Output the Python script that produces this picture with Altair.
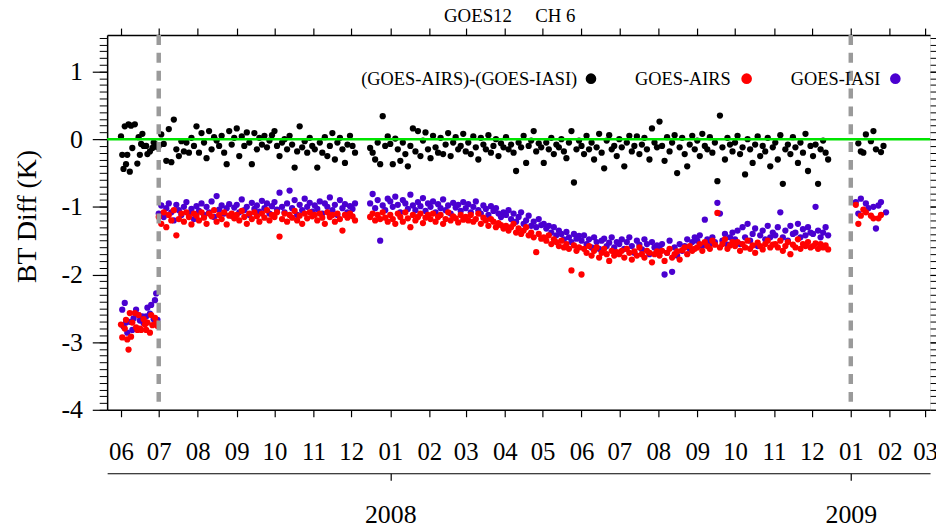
import datetime as dt
import altair as alt
import pandas as pd

SERIF = "Liberation Serif"

# ---------------- data ----------------
SERIES = ["(GOES-AIRS)-(GOES-IASI)", "GOES-IASI", "GOES-AIRS"]
COLORS = ["#000000", "#4a00d0", "#ff0000"]

# segment start dates and sampling step (days)
seg_start = ["2007-06-01", "2007-07-01", "2007-12-16", "2009-01-05"]
seg_step = [1, 2, 2, 2]

# ---- (GOES-AIRS)-(GOES-IASI) ----
diff_A = [0.04, -0.23, -0.44, 0.19, -0.37, -0.23, 0.22, -0.48, 0.20, -0.13,
          None, 0.22, None, -0.36, 0.03, -0.23, -0.07, 0.08, -0.10, None,
          -0.10, -0.22, None, -0.18, None, -0.13, -0.05, None, -0.08, -0.12]
diff_B = [-0.10, 0.07, -0.07, -0.32, 0.15, -0.34, 0.29, -0.15, -0.25, -0.03, -0.18, -0.05, -0.20, 0.02, -0.10, 0.19,
          -0.20, 0.09, -0.05, -0.28, 0.12, -0.15, 0.03, -0.02, -0.10, 0.05, -0.20, -0.37, 0.12, -0.08, 0.02,
          0.16, -0.25, 0.04, -0.10, 0.10, -0.05, -0.37, 0.09, -0.15, 0.02, -0.08, 0.05, -0.12, -0.02, 0.06,
          0.12, -0.10, -0.25, -0.05, 0.00, -0.15, 0.05, -0.08, -0.42, -0.18, 0.19, -0.12, -0.03, -0.20, 0.02, -0.10,
          -0.15, -0.42, -0.05, -0.20, 0.03, -0.25, -0.10, 0.09, -0.30, -0.05, 0.02, -0.15, -0.35, -0.08, 0.05,
          -0.10, -0.20]
diff_C = [-0.13, -0.20, -0.30, -0.05, -0.37, 0.34, -0.10, 0.04,
          -0.07, -0.37, 0.01, -0.15, -0.32, -0.05, -0.22, -0.40, -0.10, 0.16, -0.18, 0.12, -0.25, -0.02, 0.10, -0.15,
          -0.28, 0.05, -0.12, -0.20, 0.02, -0.22, -0.08, 0.09, -0.25, -0.05, 0.03, -0.15, -0.10, 0.08,
          -0.18, -0.05, -0.22, 0.04, -0.12, -0.30, 0.02, -0.08, -0.15, 0.06, -0.20, -0.10, 0.00, -0.25, -0.06, -0.12,
          0.03, -0.15, -0.08, -0.20, -0.47, -0.05, -0.12, 0.05, -0.35, -0.10, -0.02, 0.12, -0.18, -0.06, -0.12,
          -0.35, -0.05, -0.15, 0.02, -0.22, -0.08, -0.12, 0.00, -0.18, -0.28, -0.05, 0.12, -0.64, -0.15, -0.02,
          -0.10, -0.22, 0.05, -0.15, -0.05, -0.30, -0.12, 0.08, -0.20, -0.43, -0.02, 0.06, -0.15, -0.10, -0.25,
          0.00, -0.12, -0.40, -0.05, 0.05, -0.18, -0.10, 0.04, -0.22, -0.08, 0.02, -0.15, -0.30, 0.16, -0.05, -0.12,
          0.26, -0.10, -0.32, 0.03, -0.18, -0.05, 0.06, -0.50, -0.12, 0.02, -0.22, -0.40, -0.08, 0.05, -0.15,
          -0.02, -0.25, 0.08, -0.10, -0.15, 0.03, -0.20, -0.05, -0.62, 0.35, -0.12, -0.30, 0.02, -0.08, -0.18,
          -0.05, 0.05, -0.22, -0.12, -0.52, 0.00, -0.15, -0.35, -0.08, 0.04, -0.25, -0.10, -0.18, 0.02, -0.40, -0.12,
          -0.05, -0.30, 0.06, -0.66, -0.15, -0.08, -0.22, 0.03, -0.12, -0.35, -0.05, -0.20, 0.08, -0.47, -0.10,
          -0.25, -0.08, -0.66, -0.15, -0.02, -0.20, -0.30]
diff_D = [None, -0.06, -0.18, -0.20, 0.07, None, -0.03, 0.12, -0.15, None, -0.19, -0.10, None, None]

# ---- GOES-IASI ----
iasi_A = [None, -2.52, -2.77, -2.42, -2.71, -2.86, None, -2.70, None, -2.82,
          -2.65, None, -2.52, None, -2.60, -2.68, None, -2.62, -2.72, None,
          -2.62, -2.49, None, -2.58, -2.45, None, -2.66, -2.38, -2.28, -2.67]
iasi_B = [-1.10, -0.98, -1.15, -1.02, -0.95, -1.08, -1.20, -0.97, -1.05, -1.12, -1.00, -0.93, -1.10, -1.03, -1.18, -0.99,
          -1.06, -0.95, -1.12, -1.00, -1.08, -0.92, -1.15, -0.84, -1.04, -0.98, -1.10, -1.02, -0.96, -1.13, -1.01,
          -0.97, -1.08, -0.89, -1.05, -1.00, -1.12, -0.94, -1.03, -0.98, -1.07, -0.91, -1.02, -0.95, -1.10, -0.99,
          -0.93, -1.04, -0.79, -1.00, -1.08, -0.95, -0.76, -1.02, -0.90, -1.12, -0.97, -1.05, -0.88, -1.00, -0.94, -1.07,
          -0.98, -1.03, -0.92, -1.10, -0.95, -1.00, -0.86, -1.05, -0.97, -1.12, -0.90, -1.02, -0.96, -1.08, -0.99,
          -1.03, -0.95]
iasi_C = [-0.95, -0.81, -1.02, -0.90, -1.50, -0.98, -1.05, -0.88,
          -0.92, -1.00, -0.85, -0.97, -1.08, -0.90, -0.95, -1.03, -0.82, -0.98, -1.05, -0.93, -0.99, -0.87, -1.06, -0.95,
          -1.00, -0.92, -1.08, -0.96, -1.02, -0.89, -1.05, -0.98, -1.10, -0.94, -1.01, -0.97, -1.06, -0.93,
          -1.02, -0.96, -1.08, -1.00, -0.92, -1.05, -1.10, -0.98, -1.03, -1.12, -0.99, -1.06, -1.02, -1.10, -1.15, -1.08,
          -1.12, -1.05, -1.18, -1.10, -1.22, -1.15, -1.08, -1.25, -1.20, -1.13, -1.28, -1.22, -1.30, -1.18, -1.27,
          -1.25, -1.32, -1.28, -1.38, -1.30, -1.42, -1.35, -1.40, -1.48, -1.37, -1.45, -1.52, -1.40, -1.47, -1.43,
          -1.50, -1.42, -1.55, -1.48, -1.60, -1.45, -1.52, -1.62, -1.50, -1.47, -1.58, -1.53, -1.45, -1.60, -1.52,
          -1.55, -1.48, -1.62, -1.52, -1.45, -1.58, -1.68, -1.50, -1.56, -1.63, -1.48, -1.55, -1.70, -1.52, -1.60, -1.57,
          -1.62, -1.55, -2.00, -1.68, -1.50, -1.96, -1.60, -1.72, -1.55, -1.65, -1.58, -1.48, -1.62, -1.52, -1.45,
          -1.50, -1.42, -1.58, -1.19, -1.48, -1.55, -1.45, -1.52, -0.94, -1.10, -1.50, -1.40, -1.56, -1.45, -1.38,
          -1.48, -1.35, -1.55, -1.30, -1.45, -1.25, -1.50, -1.40, -1.32, -1.58, -1.42, -1.35, -1.48, -1.28, -1.45, -1.38,
          -1.42, -1.30, -1.08, -1.45, -1.35, -1.50, -1.28, -1.40, -1.38, -1.25, -1.45, -1.33, -1.42, -1.30, -1.38,
          -1.40, -1.00, -1.35, -1.45, -1.38, -1.30, -1.42]
iasi_D = [-0.93, -1.10, -0.88, None, -0.95, -1.02, None, -1.00, -1.32, -0.98, -0.93, None, -1.08, None]

# ---- GOES-AIRS ----
airs_A = [-2.74, -2.93, None, -2.80, -2.67, -2.96, -3.11, -2.57, -2.92, -2.71,
          None, -2.57, -2.78, -2.82, -2.60, -2.80, -2.82, None, -2.66, -2.74,
          -2.82, -2.71, None, -2.86, -2.60, -2.75, None, -2.64, -2.71, -2.76]
airs_B = [-1.15, -1.25, -1.08, -1.30, -1.12, -1.20, -1.05, -1.42, -1.18, -1.10, -1.22, -1.08, -1.15, -1.26, -1.10, -1.13,
          -1.20, -1.08, -1.16, -1.25, -1.10, -1.14, -1.05, -1.22, -1.12, -1.18, -1.08, -1.26, -1.13, -1.10, -1.17,
          -1.12, -1.20, -1.06, -1.15, -1.25, -1.10, -1.18, -1.08, -1.14, -1.22, -1.10, -1.16, -1.05, -1.20, -1.12,
          -1.15, -1.08, -1.44, -1.18, -1.10, -1.22, -1.12, -1.16, -1.06, -1.20, -1.13, -1.25, -1.10, -1.17, -1.08, -1.14,
          -1.12, -1.20, -1.10, -1.16, -1.25, -1.08, -1.15, -1.12, -1.22, -1.10, -1.18, -1.35, -1.12, -1.16, -1.10,
          -1.14, -1.20]
airs_C = [-1.15, -1.10, -1.20, -1.12, -1.18, -1.08, -1.16, -1.22,
          -1.12, -1.18, -1.25, -1.10, -1.15, -1.22, -1.08, -1.17, -1.30, -1.12, -1.20, -1.15, -1.10, -1.24, -1.16, -1.12,
          -1.18, -1.10, -1.22, -1.15, -1.12, -1.25, -1.18, -1.08, -1.20, -1.14, -1.17, -1.23, -1.12, -1.19,
          -1.15, -1.20, -1.12, -1.22, -1.18, -1.10, -1.25, -1.16, -1.20, -1.28, -1.18, -1.22, -1.30, -1.24, -1.27, -1.32,
          -1.28, -1.35, -1.30, -1.25, -1.38, -1.32, -1.40, -1.35, -1.30, -1.42, -1.38, -1.45, -1.67, -1.40, -1.47,
          -1.45, -1.50, -1.42, -1.55, -1.48, -1.52, -1.58, -1.50, -1.60, -1.55, -1.62, -1.94, -1.57, -1.65, -1.60,
          -2.00, -1.62, -1.68, -1.58, -1.72, -1.65, -1.60, -1.75, -1.68, -1.62, -1.70, -1.80, -1.65, -1.72, -1.67,
          -1.70, -1.65, -1.75, -1.62, -1.68, -1.78, -1.66, -1.72, -1.60, -1.70, -1.75, -1.65, -1.68, -1.82, -1.70, -1.66,
          -1.72, -1.65, -1.80, -1.68, -1.62, -1.75, -1.70, -1.66, -1.78, -1.64, -1.60, -1.70, -1.58, -1.65, -1.62,
          -1.60, -1.55, -1.65, -1.52, -1.58, -1.62, -1.50, -1.56, -1.09, -1.60, -1.55, -1.48, -1.62, -1.57, -1.52,
          -1.58, -1.52, -1.65, -1.55, -1.60, -1.50, -1.62, -1.57, -1.68, -1.53, -1.58, -1.63, -1.55, -1.50, -1.60, -1.56,
          -1.55, -1.60, -1.50, -1.65, -1.58, -1.52, -1.70, -1.56, -1.60, -1.48, -1.62, -1.55, -1.58, -1.52, -1.60,
          -1.58, -1.54, -1.62, -1.55, -1.60, -1.57, -1.63]
airs_D = [-0.97, -1.25, -1.13, -1.04, -1.08, None, -1.13, -1.17, None, -1.17, -1.12, None, None, None]

month_labels_start = (2007, 6)
month_labels_end = (2009, 3)
year_ticks = [2008, 2009]
vline_dates = ["2007-07-01", "2009-01-01"]
domain_start = (2007, 5, 21)
domain_end = (2009, 3, 5)
title_parts = ["GOES12", "CH 6"]


def build(series, segments):
    rows = []
    for start, step, vals in zip(seg_start, seg_step, segments):
        d0 = dt.date.fromisoformat(start)
        for i, v in enumerate(vals):
            if v is None:
                continue
            rows.append({"date": (d0 + dt.timedelta(days=i * step)).isoformat(),
                         "value": v, "series": series})
    return rows


rows = (build(SERIES[0], [diff_A, diff_B, diff_C, diff_D])
        + build(SERIES[1], [iasi_A, iasi_B, iasi_C, iasi_D])
        + build(SERIES[2], [airs_A, airs_B, airs_C, airs_D]))
df = pd.DataFrame(rows)

# ---------------- scales & axes ----------------
months = []
y, m = month_labels_start
while (y, m) <= month_labels_end:
    months.append(alt.DateTime(year=y, month=m, date=1, utc=True))
    m += 1
    if m > 12:
        y, m = y + 1, 1

xscale = alt.Scale(type="utc", nice=False,
                   domain=[alt.DateTime(year=domain_start[0], month=domain_start[1], date=domain_start[2], utc=True),
                           alt.DateTime(year=domain_end[0], month=domain_end[1], date=domain_end[2], utc=True)])
yscale = alt.Scale(domain=[-4, 1.54], nice=False, zero=False)

minor_vals = [round(-4 + 0.1 * i, 1) for i in range(56)]
major_vals = [-4, -3, -2, -1, 0, 1]

common = dict(tickColor="black", domainColor="black", labelColor="black", grid=False, title=None)

bottom_axis = alt.Axis(orient="bottom", values=months, format="%m", labelFont=SERIF, labelFontSize=25,
                       tickSize=7, tickWidth=1.2, domainWidth=1.5, labelPadding=23, labelFlush=False,
                       labelOverlap=False, **common)
top_axis = alt.Axis(orient="top", values=months, labels=False, tickSize=7, tickWidth=1.2, domainWidth=1.5, **common)
year_axis = alt.Axis(orient="bottom", offset=64, values=[alt.DateTime(year=yy, month=1, date=1, utc=True) for yy in year_ticks],
                     format="%Y", labelFont=SERIF, labelFontSize=26, tickSize=7, tickWidth=1.2, domainWidth=1.2,
                     labelPadding=22, labelFlush=False, labelOverlap=False, **common)
left_major = alt.Axis(orient="left", values=major_vals, labelExpr="toString(datum.value)", labelFont=SERIF,
                      labelFontSize=26, tickSize=15, tickWidth=1.2, domainWidth=1.5, labelPadding=10, **common)
left_minor = alt.Axis(orient="left", values=minor_vals, labels=False, domain=False, tickSize=8, tickWidth=1, **common)
right_minor = alt.Axis(orient="right", values=minor_vals, labels=False, domain=False, tickSize=7, tickWidth=1, **common)
right_major = alt.Axis(orient="right", values=major_vals, labels=False, domain=False, tickSize=14, tickWidth=1.2, **common)

axdf = pd.DataFrame({"date": ["2008-06-01"], "value": [0.0]})


def axis_layer(xaxis, yaxis):
    return alt.Chart(axdf).mark_point(opacity=0).encode(
        x=alt.X("date:T", scale=xscale, axis=xaxis),
        y=alt.Y("value:Q", scale=yscale, axis=yaxis))


points = alt.Chart(df).mark_circle(size=40, opacity=1).encode(
    x=alt.X("date:T", scale=xscale, axis=bottom_axis),
    y=alt.Y("value:Q", scale=yscale, axis=left_major),
    color=alt.Color("series:N", scale=alt.Scale(domain=SERIES, range=COLORS), legend=None),
)

zero_line = alt.Chart(pd.DataFrame({"v": [0.0]})).mark_rule(color="#00e400", strokeWidth=2.5).encode(
    y=alt.Y("v:Q", scale=yscale, axis=None))

vlines = alt.Chart(pd.DataFrame({"d": vline_dates})).mark_rule(
    color="#9a9a9a", strokeWidth=4.5, strokeDash=[10, 8]).encode(
    x=alt.X("d:T", scale=xscale, axis=None))

title_layers = [
    alt.Chart(pd.DataFrame({"t": [part]})).mark_text(
        font=SERIF, fontSize=19, align="center", baseline="middle", color="black").encode(
        text="t:N", x=alt.value(xc), y=alt.value(-19))
    for part, xc in zip(title_parts, [374, 452])
]

ytitle = alt.Chart(pd.DataFrame({"t": ["BT Diff (K)"]})).mark_text(
    font=SERIF, fontSize=28, align="center", baseline="middle", angle=270, color="black").encode(
    text="t:N", x=alt.value(-80), y=alt.value(183))

# legend (text followed by a dot), placed inside the plot
LEG_TEXT_RIGHT = [474, 629, 780]
LEG_DOT_X = [488, 645, 795]
LEG_Y = 44
legend_layers = []
for name, col, xr, xd in zip([SERIES[0], SERIES[2], SERIES[1]], [COLORS[0], COLORS[2], COLORS[1]],
                             LEG_TEXT_RIGHT, LEG_DOT_X):
    legend_layers.append(alt.Chart(pd.DataFrame({"t": [name]})).mark_text(
        font=SERIF, fontSize=18.5, align="right", baseline="middle", color="black").encode(
        text="t:N", x=alt.value(xr), y=alt.value(LEG_Y)))
    legend_layers.append(alt.Chart(pd.DataFrame({"t": [name]})).mark_circle(
        size=115, opacity=1, color=col).encode(x=alt.value(xd), y=alt.value(LEG_Y)))

chart = alt.layer(
    points,
    zero_line,
    vlines,
    axis_layer(top_axis, left_minor),
    axis_layer(year_axis, right_minor),
    axis_layer(None, right_major),
    *title_layers,
    ytitle,
    *legend_layers,
).resolve_axis(x="independent", y="independent").properties(
    width=830, height=378,
    autosize=alt.AutoSizeParams(type="none"),
    padding={"left": 100, "top": 25, "right": 6, "bottom": 121},
).configure_view(stroke="black", strokeWidth=1.5).configure(background="white")

chart.save("out.html", embed_options={"renderer": "svg", "actions": False})
